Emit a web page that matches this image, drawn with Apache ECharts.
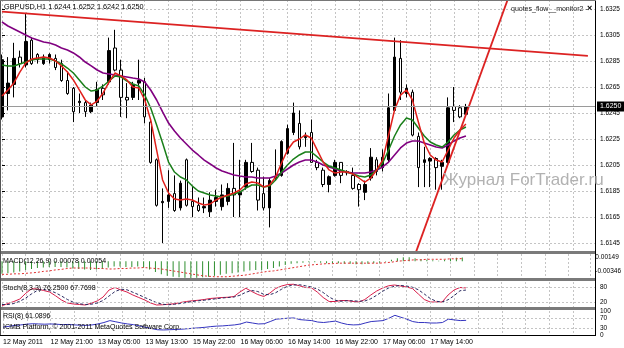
<!DOCTYPE html>
<html><head><meta charset="utf-8">
<script src="https://cdn.jsdelivr.net/npm/echarts@6/dist/echarts.min.js"></script>
<style>html,body{margin:0;padding:0;background:#fff}#c{width:624px;height:348px}</style>
</head><body><div id="c"></div>
<script>
// ---------------- data ----------------
const symbolName = 'GBPUSD,H1';
const timeLabels = ['12 May 2011','12 May 21:00','13 May 05:00','13 May 13:00','15 May 22:00','16 May 06:00','16 May 14:00','16 May 22:00','17 May 06:00','17 May 14:00'];
const priceRange = [1.6145, 1.6325];
const priceStep = 0.002;
const macdRange = [-0.00346, 0.00149];
const stochLabels = [0, 20, 80, 100];
const stochLevels = [20, 80];
const rsiLabels = [0, 30, 70, 100];
const rsiLevels = [30, 70];

const open = [1.6242,1.6260,1.6267,1.6288,1.6282,1.6301,1.6290,1.6283,1.6286,1.6287,
1.6283,1.6270,1.6264,1.6253,1.6253,1.6246,1.6253,1.6264,1.6269,1.6295,
1.6278,1.6257,1.6257,1.6268,1.6269,1.6238,1.6209,1.6176,1.6177,1.6183,
1.6172,1.6209,1.6177,1.6174,1.6172,1.6169,1.6177,1.6173,1.6177,1.6187,
1.6182,1.6188,1.6207,1.6201,1.6183,1.6172,1.6195,1.6197,1.6214,1.6230,
1.6237,1.6226,1.6230,1.6207,1.6201,1.6190,1.6197,1.6207,1.6199,1.6197,
1.6190,1.6184,1.6195,1.6209,1.6203,1.6209,1.6247,1.6287,1.6260,1.6261,
1.6227,1.6207,1.6208,1.6210,1.6204,1.6207,1.6250,1.6249,1.6244];
const close = [1.6286,1.6268,1.6287,1.6283,1.6300,1.6283,1.6286,1.6288,1.6290,1.6280,
1.6270,1.6260,1.6246,1.6254,1.6246,1.6251,1.6263,1.6259,1.6293,1.6278,
1.6257,1.6255,1.6267,1.6270,1.6242,1.6207,1.6174,1.6177,1.6182,1.6170,
1.6191,1.6174,1.6173,1.6170,1.6173,1.6178,1.6180,1.6182,1.6187,1.6182,
1.6184,1.6207,1.6200,1.6178,1.6172,1.6193,1.6196,1.6223,1.6233,1.6245,
1.6219,1.6227,1.6207,1.6203,1.6190,1.6196,1.6207,1.6197,1.6200,1.6187,
1.6186,1.6190,1.6211,1.6200,1.6211,1.6249,1.6288,1.6261,1.6264,1.6228,
1.6203,1.6209,1.6210,1.6203,1.6207,1.6249,1.6247,1.6242,1.6250];
const low = [1.6240,1.6247,1.6257,1.6280,1.6280,1.6282,1.6283,1.6282,1.6283,1.6278,
1.6269,1.6259,1.6238,1.6245,1.6242,1.6245,1.6250,1.6255,1.6267,1.6277,
1.6242,1.6241,1.6255,1.6255,1.6237,1.6206,1.6173,1.6145,1.6172,1.6169,
1.6170,1.6173,1.6165,1.6169,1.6168,1.6165,1.6173,1.6170,1.6174,1.6165,
1.6165,1.6186,1.6199,1.6170,1.6170,1.6157,1.6193,1.6196,1.6213,1.6228,
1.6217,1.6219,1.6207,1.6201,1.6188,1.6184,1.6196,1.6191,1.6197,1.6186,
1.6173,1.6178,1.6193,1.6197,1.6200,1.6207,1.6246,1.6255,1.6257,1.6227,
1.6188,1.6188,1.6188,1.6186,1.6186,1.6206,1.6238,1.6241,1.6242];
const high = [1.6290,1.6288,1.6299,1.6293,1.6322,1.6303,1.6291,1.6290,1.6291,1.6290,
1.6286,1.6277,1.6265,1.6260,1.6255,1.6253,1.6269,1.6267,1.6303,1.6309,
1.6286,1.6268,1.6269,1.6286,1.6272,1.6241,1.6210,1.6187,1.6201,1.6197,
1.6193,1.6210,1.6188,1.6180,1.6180,1.6184,1.6186,1.6190,1.6191,1.6222,
1.6209,1.6209,1.6222,1.6203,1.6196,1.6195,1.6217,1.6224,1.6236,1.6253,
1.6247,1.6230,1.6240,1.6209,1.6203,1.6197,1.6209,1.6207,1.6201,1.6203,
1.6191,1.6193,1.6218,1.6211,1.6217,1.6260,1.6303,1.6301,1.6267,1.6263,
1.6230,1.6219,1.6211,1.6211,1.6209,1.6257,1.6265,1.6251,1.6252];

const maFast = [1.62581,1.62627,1.62681,1.62765,1.62835,1.62865,1.62873,1.62881,1.62873,1.62850,
1.62812,1.62765,1.62704,1.62627,1.62550,1.62512,1.62542,1.62604,1.62688,1.62758,
1.62735,1.62704,1.62650,1.62642,1.62550,1.62396,1.62165,1.61935,1.61835,1.61788,
1.61781,1.61788,1.61781,1.61758,1.61742,1.61750,1.61781,1.61804,1.61819,1.61835,
1.61858,1.61904,1.61919,1.61912,1.61881,1.61896,1.61958,1.62065,1.62165,1.62227,
1.62250,1.62281,1.62258,1.62165,1.62073,1.62012,1.61988,1.61996,1.61996,1.61981,
1.61950,1.61919,1.61950,1.62012,1.62088,1.62281,1.62473,1.62588,1.62627,1.62550,
1.62381,1.62219,1.62127,1.62088,1.62073,1.62165,1.62258,1.62319,1.62365];
const maMid = [1.62819,1.62812,1.62812,1.62827,1.62842,1.62858,1.62865,1.62865,1.62865,1.62850,
1.62827,1.62796,1.62758,1.62704,1.62650,1.62619,1.62627,1.62658,1.62696,1.62735,
1.62727,1.62696,1.62673,1.62658,1.62588,1.62488,1.62358,1.62219,1.62073,1.61996,
1.61958,1.61935,1.61888,1.61850,1.61835,1.61819,1.61812,1.61804,1.61812,1.61827,
1.61842,1.61873,1.61896,1.61896,1.61881,1.61888,1.61935,1.61996,1.62050,1.62096,
1.62127,1.62150,1.62150,1.62112,1.62073,1.62042,1.62027,1.62012,1.61996,1.61981,
1.61965,1.61958,1.61973,1.62012,1.62065,1.62165,1.62273,1.62358,1.62412,1.62396,
1.62335,1.62273,1.62227,1.62204,1.62188,1.62227,1.62281,1.62319,1.62342];
const maSlow = [1.63150,1.63119,1.63096,1.63073,1.63050,1.63027,1.63012,1.62996,1.62988,1.62973,
1.62950,1.62935,1.62912,1.62881,1.62842,1.62812,1.62781,1.62758,1.62750,1.62742,
1.62735,1.62727,1.62719,1.62712,1.62688,1.62627,1.62550,1.62458,1.62373,1.62312,
1.62258,1.62212,1.62165,1.62127,1.62088,1.62058,1.62027,1.62004,1.61988,1.61973,
1.61965,1.61958,1.61958,1.61950,1.61950,1.61950,1.61965,1.61988,1.62019,1.62050,
1.62073,1.62088,1.62088,1.62073,1.62050,1.62035,1.62019,1.62004,1.61996,1.61988,
1.61988,1.61988,1.61996,1.62012,1.62035,1.62073,1.62127,1.62181,1.62219,1.62235,
1.62235,1.62219,1.62204,1.62188,1.62181,1.62204,1.62235,1.62258,1.62273];

const trendDown = [[0, 1.6323], [98.5, 1.6289]];
const trendUp = [[69.6, 1.6138], [85.0, 1.6332]];

const macdMain = [-0.0026,-0.0025,-0.0023,-0.0021,-0.0018,-0.0016,-0.0014,-0.0013,-0.0012,-0.0012,
-0.0012,-0.0013,-0.0015,-0.0016,-0.0017,-0.0018,-0.0017,-0.0016,-0.0013,-0.0011,
-0.0011,-0.0012,-0.0012,-0.0011,-0.0013,-0.0017,-0.0022,-0.0027,-0.0030,-0.0032,
-0.0033,-0.0034,-0.00346,-0.0034,-0.0033,-0.0032,-0.0030,-0.0028,-0.0026,-0.0025,
-0.0023,-0.0021,-0.0019,-0.0018,-0.0018,-0.0016,-0.0014,-0.0011,-0.0008,-0.0005,
-0.0004,-0.0003,-0.0002,-0.0002,-0.0003,-0.0004,-0.0004,-0.0004,-0.0005,-0.0005,
-0.0006,-0.0006,-0.0005,-0.0004,-0.0003,-0.0001,0.0003,0.0006,0.0008,0.0008,
0.0006,0.0004,0.0003,0.0002,0.0001,0.0003,0.0005,0.0007,0.00078];
const macdSignal = [-0.0027,-0.0027,-0.0026,-0.0026,-0.0025,-0.0024,-0.0023,-0.0021,-0.0020,-0.0018,
-0.0017,-0.0015,-0.0014,-0.0014,-0.0014,-0.0014,-0.0015,-0.0015,-0.0016,-0.0016,
-0.0015,-0.0015,-0.0014,-0.0014,-0.0013,-0.0014,-0.0015,-0.0016,-0.0018,-0.0020,
-0.0022,-0.0024,-0.0026,-0.0028,-0.0030,-0.0031,-0.0032,-0.0032,-0.0032,-0.0031,
-0.0030,-0.0029,-0.0027,-0.0025,-0.0023,-0.0021,-0.0020,-0.0018,-0.0016,-0.0014,
-0.0012,-0.0010,-0.0008,-0.0007,-0.0006,-0.0005,-0.0005,-0.0004,-0.0004,-0.0004,
-0.0004,-0.0004,-0.0004,-0.0004,-0.0004,-0.0003,-0.0002,0.0000,0.0001,0.0002,
0.0003,0.0003,0.0004,0.0004,0.0004,0.0004,0.0005,0.0005,0.00054];

const stochMain = [5,14,22,32,55,73,72,66,60,45,28,16,12,10,8,15,24,40,68,78,
68,60,48,38,28,16,8,9,11,13,18,22,25,27,30,34,36,38,39,42,
60,75,62,50,42,55,74,84,90,91,85,78,77,60,38,22,22,26,26,22,
20,30,48,64,76,85,88,84,80,74,52,30,20,20,20,48,68,78,76.25];
const stochSignal = [10,10,14,23,36,53,67,70,66,57,44,30,19,13,10,11,16,26,44,62,
71,69,59,49,38,28,17,11,9,11,14,18,22,25,27,30,33,36,38,40,
47,59,66,62,51,49,57,71,83,88,89,85,80,72,58,40,27,23,25,25,
23,24,33,47,63,76,83,86,84,79,69,52,34,23,20,29,45,65,67.7698];
const rsi = [33,36,40,42,45,47,46,45,46,45,43,44,42,41,40,42,46,52,60,55,
50,46,43,38,32,27,22,21,22,23,24,26,28,30,32,35,37,38,40,42,
46,54,50,46,47,56,66,68,70,71,64,62,60,54,52,55,58,50,44,42,
43,50,56,58,60,70,82,74,66,56,52,52,50,50,52,66,63,60,61.0896];

// ---------------- chart ----------------
const FONT = '"Liberation Sans", Arial, sans-serif';
const N = close.length, last = N - 1;
const pair = a => a.map((v, i) => [i, v]);
const candleData = close.map((c, i) => [i, open[i], close[i], low[i], high[i]]);
const GRID = '#c4c4c4';

function xAx(gi, split, extra) {
  return Object.assign({
    type: 'value', gridIndex: gi, min: 0, max: 99.7, interval: 4,
    axisLine: {show: false}, axisTick: {show: false}, axisLabel: {show: false},
    splitLine: {show: split, lineStyle: {color: GRID, type: [2, 2], width: 1}}
  }, extra || {});
}
const lblBase = {fontSize: 6.5, color: '#000', fontFamily: FONT, margin: 5};
const tickBase = {show: true, length: 3, lineStyle: {color: '#000'}};

const levelLine = (levels) => ({
  silent: true, symbol: 'none', label: {show: false}, precision: 4,
  lineStyle: {color: GRID, type: [2, 2], width: 1},
  data: levels.map(v => ({yAxis: v}))
});

const option = {
  animation: false,
  backgroundColor: '#fff',
  grid: [
    {left: 2, width: 593, top: 9, height: 234},
    {left: 2, width: 593, top: 0, height: 251},
    {left: 2, width: 593, top: 254, height: 24},
    {left: 2, width: 593, top: 282, height: 25},
    {left: 2, width: 593, top: 311, height: 24}
  ],
  xAxis: [
    xAx(0, false), xAx(1, true), xAx(2, true), xAx(3, true),
    xAx(4, true, {axisLabel: {show: true, fontSize: 7, color: '#000', fontFamily: FONT, margin: 4, align: 'left',
      formatter: v => (v % 8 === 0 && v / 8 < timeLabels.length) ? timeLabels[v / 8] : ''}})
  ],
  yAxis: [
    {type: 'value', gridIndex: 0, position: 'right', min: priceRange[0], max: priceRange[1], interval: priceStep,
      axisLine: {show: false}, axisTick: tickBase,
      axisLabel: Object.assign({}, lblBase, {formatter: v => v.toFixed(4)}),
      splitLine: {show: true, lineStyle: {color: GRID, type: [2, 2], width: 1}}},
    {type: 'value', gridIndex: 1, min: 0, max: 1, show: false},
    {type: 'value', gridIndex: 2, position: 'right', min: macdRange[0], max: macdRange[1], interval: macdRange[1] - macdRange[0],
      axisLine: {show: false}, axisTick: {show: false}, splitLine: {show: false},
      axisLabel: Object.assign({}, lblBase, {
        formatter: v => v > 0 ? '{a|' + v.toFixed(5) + '}' : '{b|' + v.toFixed(5) + '}',
        rich: {a: {fontSize: 6.5, fontFamily: FONT, padding: [7, 0, 0, 0]}, b: {fontSize: 6.5, fontFamily: FONT, padding: [0, 0, 14, 0]}}
      })},
    {type: 'value', gridIndex: 3, position: 'right', min: 0, max: 100, interval: 20,
      axisLine: {show: false}, axisTick: {show: false}, splitLine: {show: false},
      axisLabel: Object.assign({}, lblBase, {formatter: v => stochLabels.includes(v) ? String(v) : ''})},
    {type: 'value', gridIndex: 4, position: 'right', min: 0, max: 100, interval: 10,
      axisLine: {show: false}, axisTick: {show: false}, splitLine: {show: false},
      axisLabel: Object.assign({}, lblBase, {formatter: v => rsiLabels.includes(v) ? String(v) : ''})}
  ],
  series: [
    {type: 'line', xAxisIndex: 1, yAxisIndex: 1, data: []},
    {type: 'line', xAxisIndex: 0, yAxisIndex: 0, data: [[last, close[last]]], symbol: 'none', z: 1,
      lineStyle: {opacity: 0},
      markLine: {silent: true, symbol: 'none', precision: 4,
        lineStyle: {color: '#9a9a9a', type: 'solid', width: 1},
        label: {show: true, position: 'end', distance: 2, formatter: p => Number(p.value).toFixed(4),
          backgroundColor: '#000', color: '#fff', fontSize: 7, fontFamily: FONT, padding: [2, 3, 1, 3]},
        data: [{yAxis: close[last]}]}},
    {type: 'candlestick', xAxisIndex: 0, yAxisIndex: 0, data: candleData, encode: {x: 0, y: [1, 2, 3, 4]},
      barWidth: 3, z: 2,
      itemStyle: {color: '#000', color0: '#fff', borderColor: '#000', borderColor0: '#000', borderWidth: 1}},
    {type: 'line', xAxisIndex: 0, yAxisIndex: 0, data: pair(maSlow), symbol: 'none', z: 3,
      lineStyle: {color: '#800080', width: 1.6}},
    {type: 'line', xAxisIndex: 0, yAxisIndex: 0, data: pair(maMid), symbol: 'none', z: 3,
      lineStyle: {color: '#1a7f1a', width: 1.5}},
    {type: 'line', xAxisIndex: 0, yAxisIndex: 0, data: pair(maFast), symbol: 'none', z: 3,
      lineStyle: {color: '#e0201c', width: 1.5}},
    {type: 'line', xAxisIndex: 0, yAxisIndex: 0, data: trendDown, symbol: 'none', z: 4, clip: false,
      lineStyle: {color: '#dc2222', width: 1.8}},
    {type: 'line', xAxisIndex: 0, yAxisIndex: 0, data: trendUp, symbol: 'none', z: 4, clip: false,
      lineStyle: {color: '#dc2222', width: 1.8}},
    {type: 'bar', xAxisIndex: 2, yAxisIndex: 2, data: pair(macdMain), barWidth: 1,
      itemStyle: {color: '#2f8f2f'}},
    {type: 'line', xAxisIndex: 2, yAxisIndex: 2, data: pair(macdSignal), symbol: 'none',
      lineStyle: {color: '#e03030', width: 1, type: [2, 2]}},
    {type: 'line', xAxisIndex: 3, yAxisIndex: 3, data: pair(stochMain), symbol: 'none',
      lineStyle: {color: '#d81e4a', width: 1}, markLine: levelLine(stochLevels)},
    {type: 'line', xAxisIndex: 3, yAxisIndex: 3, data: pair(stochSignal), symbol: 'none',
      lineStyle: {color: '#2a2a60', width: 1, type: [3, 2]}},
    {type: 'line', xAxisIndex: 4, yAxisIndex: 4, data: pair(rsi), symbol: 'none',
      lineStyle: {color: '#3434c0', width: 1}, markLine: levelLine(rsiLevels)}
  ],
  graphic: [
    {type: 'rect', shape: {x: 0, y: 251, width: 596, height: 3}, style: {fill: '#7a7a7a'}, z: 50},
    {type: 'rect', shape: {x: 0, y: 278, width: 596, height: 3}, style: {fill: '#7a7a7a'}, z: 50},
    {type: 'rect', shape: {x: 0, y: 307, width: 596, height: 3}, style: {fill: '#7a7a7a'}, z: 50},
    {type: 'line', shape: {x1: 0.5, y1: 0, x2: 0.5, y2: 336}, style: {stroke: '#555', lineWidth: 1}, z: 50},
    {type: 'line', shape: {x1: 595.5, y1: 0, x2: 595.5, y2: 336}, style: {stroke: '#000', lineWidth: 1}, z: 50},
    {type: 'line', shape: {x1: 0, y1: 0.5, x2: 596, y2: 0.5}, style: {stroke: '#777', lineWidth: 1}, z: 50},
    {type: 'line', shape: {x1: 0, y1: 335.5, x2: 596, y2: 335.5}, style: {stroke: '#000', lineWidth: 1}, z: 50},
    {type: 'text', x: 4, y: 7, z: 60, style: {text: `${symbolName} ${open[last].toFixed(4)} ${high[last].toFixed(4)} ${low[last].toFixed(4)} ${close[last].toFixed(4)}`,
      fontSize: 7.3, fontFamily: FONT, fill: '#000', verticalAlign: 'middle'}},
    {type: 'text', x: 511, y: 9, z: 60, style: {text: 'quotes_flow__monitor2 -', fontSize: 7, fontFamily: FONT, fill: '#222', verticalAlign: 'middle'}},
    {type: 'text', x: 587, y: 9, z: 60, style: {text: '×', fontSize: 9, fontWeight: 'bold', fontFamily: FONT, fill: '#000', verticalAlign: 'middle'}},
    {type: 'text', x: 443, y: 180, z: 60, style: {text: 'Журнал ForTrader.ru', fontSize: 17, fontFamily: FONT, fill: '#b2b2b2', verticalAlign: 'middle'}},
    {type: 'text', x: 3, y: 261, z: 60, style: {text: `MACD(12,26,9) ${macdMain[last].toFixed(5)} ${macdSignal[last].toFixed(5)}`, fontSize: 7, fontFamily: FONT, fill: '#000', verticalAlign: 'middle'}},
    {type: 'text', x: 3, y: 288, z: 60, style: {text: `Stoch(8,3,3) ${stochMain[last].toFixed(4)} ${stochSignal[last].toFixed(4)}`, fontSize: 7, fontFamily: FONT, fill: '#000', verticalAlign: 'middle'}},
    {type: 'text', x: 3, y: 316, z: 60, style: {text: `RSI(8) ${rsi[last].toFixed(4)}`, fontSize: 7, fontFamily: FONT, fill: '#000', verticalAlign: 'middle'}},
    {type: 'text', x: 3, y: 327, z: 60, style: {text: 'ICMB Platform, © 2001-2011 MetaQuotes Software Corp.', fontSize: 7, fontFamily: FONT, fill: '#000', verticalAlign: 'middle'}}
  ]
};
const chart = echarts.init(document.getElementById('c'), null, {renderer: 'canvas'});
chart.setOption(option);
</script>
</body></html>
